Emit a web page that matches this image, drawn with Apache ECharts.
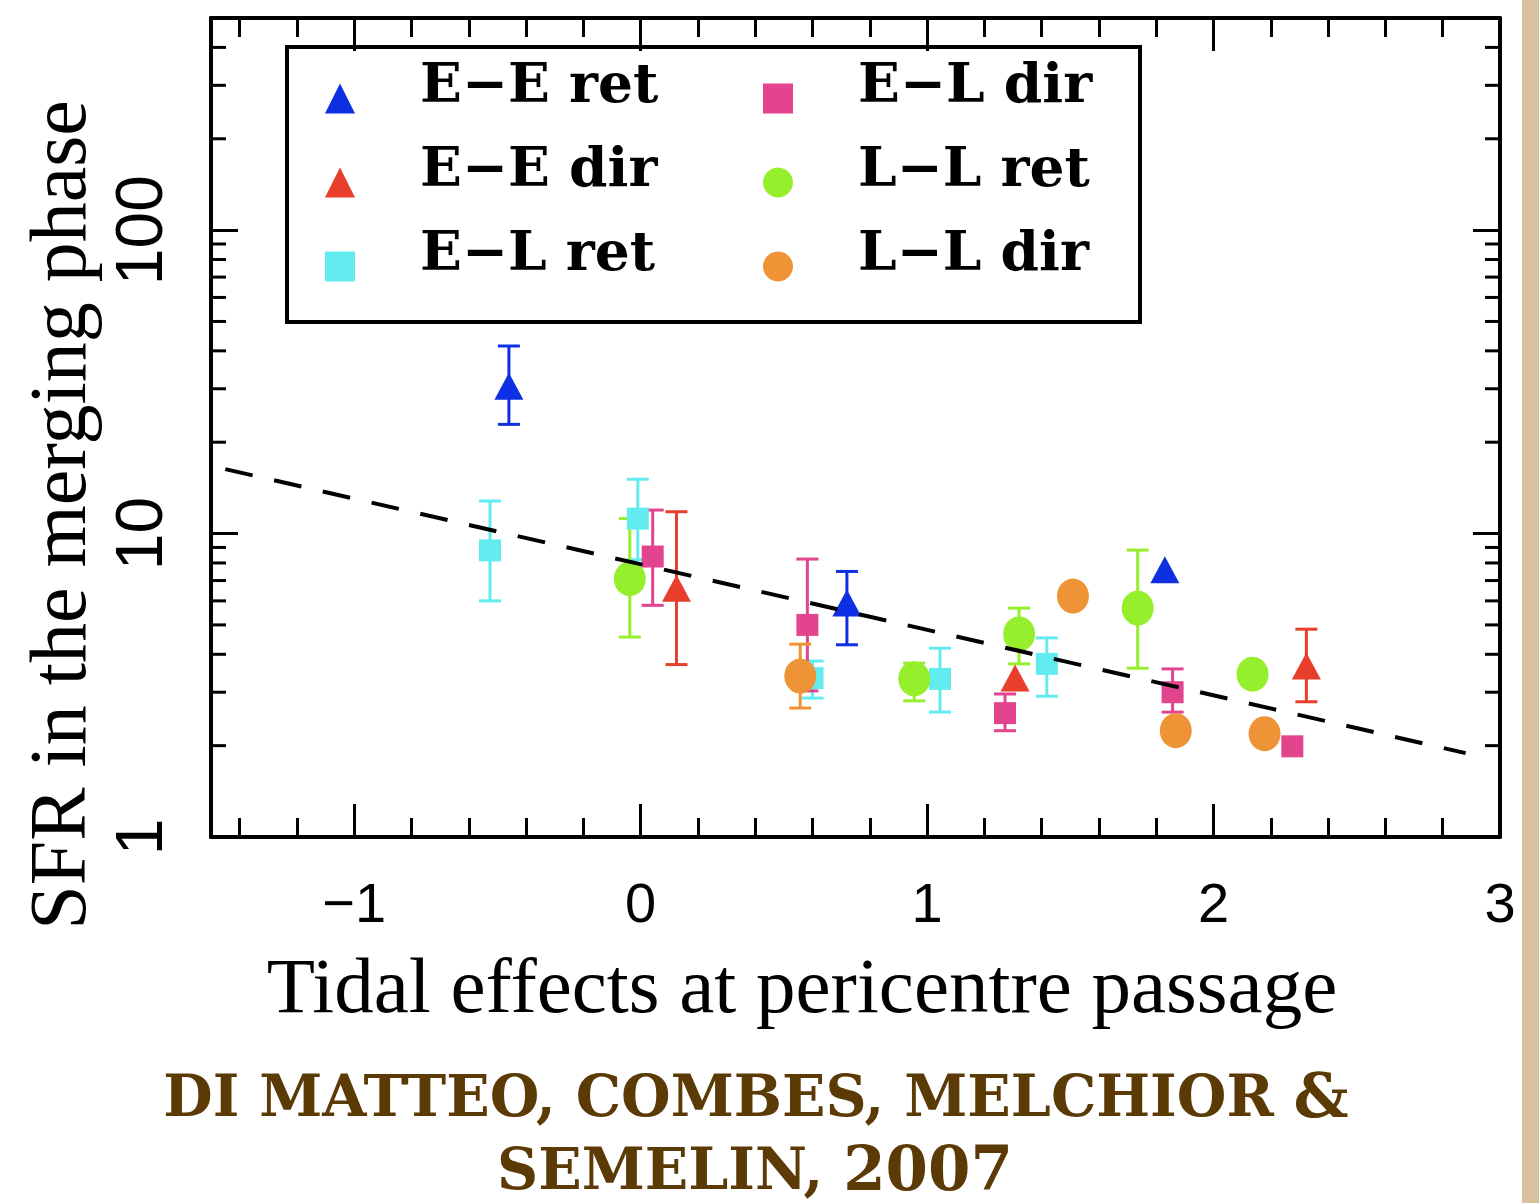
<!DOCTYPE html>
<html><head><meta charset="utf-8">
<script src="https://cdn.jsdelivr.net/npm/echarts@6/dist/echarts.min.js"></script>
<style>html,body{margin:0;padding:0;background:#fff}#c{width:1539px;height:1203px}</style>
</head><body><div id="c"></div>
<script>
// ---------- axis ticks ----------
const xMajorTicks = [-1, 0, 1, 2, 3];
const xMinorTicks = [-1.4, -1.2, -0.8, -0.6, -0.4, -0.2, 0.2, 0.4, 0.6, 0.8, 1.2, 1.4, 1.6, 1.8, 2.2, 2.4, 2.6, 2.8];
const yMinorTicks = [2, 3, 4, 5, 6, 7, 8, 9, 20, 30, 40, 50, 60, 70, 80, 90, 200, 300, 400];

// ---------- data: [tidal effect, SFR, SFR low, SFR high] ----------
const eeRet = [[-0.46, 30.6, 22.9, 41.5], [0.72, 5.9, 4.3, 7.5], [1.83, 7.6, null, null]];
const eeDir = [[0.125, 6.6, 3.7, 11.8], [1.307, 3.34, null, null], [2.324, 3.66, 2.79, 4.84]];
const elRet = [[-0.526, 8.8, 6.0, 12.8], [-0.01, 11.2, 8.2, 15.1], [0.60, 3.34, 2.87, 3.8], [1.045, 3.32, 2.58, 4.19], [1.418, 3.72, 2.91, 4.53]];
const elDir = [[0.042, 8.4, 5.8, 11.95], [0.582, 5.0, 3.03, 8.24], [1.272, 2.56, 2.24, 2.96], [1.857, 3.0, 2.58, 3.58], [2.275, 1.99, null, null]];
const llRet = [[-0.038, 7.1, 4.56, 11.2], [0.955, 3.32, 2.81, 3.74], [1.321, 4.67, 3.72, 5.68], [1.735, 5.68, 3.6, 8.82], [2.136, 3.44, null, null]];
const llDir = [[0.557, 3.39, 2.66, 4.32], [1.509, 6.22, null, null], [1.868, 2.24, null, null], [2.178, 2.19, null, null]];
const fitLine = [[-1.45, 16.3], [2.88, 1.89]];

const legendLeft = ['E−E ret', 'E−E dir', 'E−L ret'];
const legendRight = ['E−L dir', 'L−L ret', 'L−L dir'];

const X_MIN = -1.5, X_MAX = 3, Y_MIN = 1, Y_MAX = 500;

const groups = [
  { name: 'E−E ret', data: eeRet, symbol: 'triangle', size: [29, 27], color: '#0f2fe2' },
  { name: 'E−E dir', data: eeDir, symbol: 'triangle', size: [29, 27], color: '#e83e2c' },
  { name: 'E−L ret', data: elRet, symbol: 'rect', size: [22, 22], color: '#62ecf0' },
  { name: 'E−L dir', data: elDir, symbol: 'rect', size: [22, 22], color: '#e2448e' },
  { name: 'L−L ret', data: llRet, symbol: 'circle', size: [32, 35], color: '#96ef2c' },
  { name: 'L−L dir', data: llDir, symbol: 'circle', size: [32, 35], color: '#ef9436' }
];

const AXIS_LINE = { show: true, onZero: false, lineStyle: { color: '#000', width: 4 } };
function fmtX(v) { return v < 0 ? '−' + Math.abs(v) : String(v); }
function fmtY(v) {
  const l = Math.log10(v);
  return Math.abs(l - Math.round(l)) < 1e-6 ? String(Math.round(v)) : '';
}
function makeX(pos, ticks, len, showLine, showLabel) {
  return {
    type: 'value', position: pos, min: X_MIN, max: X_MAX,
    axisLine: showLine ? AXIS_LINE : { show: false, onZero: false },
    axisTick: { show: true, inside: true, length: len, customValues: ticks, lineStyle: { color: '#000', width: 3 } },
    axisLabel: showLabel ? {
      show: true, customValues: xMajorTicks, formatter: fmtX,
      fontFamily: 'Liberation Sans', fontSize: 56, color: '#000', margin: 37
    } : { show: false },
    splitLine: { show: false }
  };
}
function makeY(pos, showLabel) {
  return {
    type: 'log', logBase: 10, position: pos, min: Y_MIN, max: Y_MAX,
    axisLine: AXIS_LINE,
    axisTick: { show: true, inside: true, length: 27, lineStyle: { color: '#000', width: 3 } },
    axisLabel: showLabel ? {
      show: true, rotate: 90, formatter: fmtY,
      fontFamily: 'Liberation Sans', fontSize: 66, color: '#000', margin: 39
    } : { show: false },
    minorTick: { show: false },
    splitLine: { show: false }
  };
}

const series = [];
groups.forEach(function (g) {
  series.push({
    type: 'custom', name: g.name + ' err', silent: true, clip: false, z: 3,
    data: g.data.filter(d => d[2] != null).map(d => [d[0], d[2], d[3]]),
    renderItem: function (params, api) {
      const x = api.value(0), lo = api.value(1), hi = api.value(2);
      const t = api.coord([x, hi]), b = api.coord([x, lo]);
      const w = 11, st = { stroke: g.color, lineWidth: 3 };
      return { type: 'group', children: [
        { type: 'line', shape: { x1: t[0], y1: t[1], x2: b[0], y2: b[1] }, style: st },
        { type: 'line', shape: { x1: t[0] - w, y1: t[1], x2: t[0] + w, y2: t[1] }, style: st },
        { type: 'line', shape: { x1: b[0] - w, y1: b[1], x2: b[0] + w, y2: b[1] }, style: st }
      ] };
    }
  });
  series.push({
    type: 'scatter', name: g.name, symbol: g.symbol, symbolSize: g.size, z: 4,
    itemStyle: { color: g.color, opacity: 1 },
    data: g.data.map(d => [d[0], d[1]])
  });
});
series.push({
  type: 'line', name: 'fit', data: fitLine, symbol: 'none', z: 6, silent: true,
  lineStyle: { color: '#000', width: 4, type: [28, 22] }
});
series.push({
  type: 'custom', name: 'minor y ticks', silent: true, clip: false, z: 2,
  data: yMinorTicks.map(v => [X_MIN, v]),
  renderItem: function (params, api) {
    const v = api.value(1);
    const l = api.coord([X_MIN, v]), r = api.coord([X_MAX, v]);
    const st = { stroke: '#000', lineWidth: 3 };
    return { type: 'group', children: [
      { type: 'line', shape: { x1: l[0], y1: l[1], x2: l[0] + 15, y2: l[1] }, style: st },
      { type: 'line', shape: { x1: r[0] - 15, y1: r[1], x2: r[0], y2: r[1] }, style: st }
    ] };
  }
});

const legendText = {
  color: '#000',
  rich: {
    s: { width: 60, fontSize: 10, lineHeight: 10 },
    t: { fontFamily: 'DejaVu Serif', fontWeight: 'bold', fontSize: 55, color: '#000', lineHeight: 43 },
    v: { fontSize: 32, lineHeight: 32 }
  }
};
function makeLegend(names, left) {
  return {
    data: names, orient: 'vertical', left: left, top: 55, padding: 0,
    itemWidth: 30, itemHeight: 30, itemGap: 3,
    selectedMode: false, textStyle: legendText,
    formatter: function (name) { return '{s| }{t|' + name + '}\n{v| }'; }
  };
}

const richCredit = {
  a: { fontFamily: 'DejaVu Serif', fontWeight: 'bold', fontSize: 57, fill: '#5b3a06', lineHeight: 50 },
  b: { fontFamily: 'DejaVu Serif', fontWeight: 'bold', fontSize: 61, fill: '#5b3a06', lineHeight: 50 }
};

const chart = echarts.init(document.getElementById('c'), null, { renderer: 'svg' });
chart.setOption({
  animation: false,
  backgroundColor: '#fff',
  grid: { left: 211, right: 39, top: 18, bottom: 366 },
  xAxis: [
    makeX('bottom', xMajorTicks, 33, true, true),
    makeX('bottom', xMinorTicks, 19, false, false),
    makeX('top', xMajorTicks, 33, true, false),
    makeX('top', xMinorTicks, 19, false, false)
  ],
  yAxis: [makeY('left', true), makeY('right', false)],
  legend: [makeLegend(legendLeft, 325), makeLegend(legendRight, 763)],
  series: series,
  graphic: [
    { type: 'rect', z: 100, shape: { x: 287, y: 47, width: 853, height: 275 },
      style: { fill: 'none', stroke: '#000', lineWidth: 4 } },
    { type: 'rect', shape: { x: 1522, y: 0, width: 17, height: 1203 }, style: { fill: '#d7c29d' } },
    { type: 'text', x: 58, y: 515, rotation: Math.PI / 2,
      style: { text: 'SFR in the merging phase', fontFamily: 'Liberation Serif', fontSize: 80,
               fill: '#000', align: 'center', verticalAlign: 'middle' } },
    { type: 'text', x: 802, y: 985,
      style: { text: 'Tidal effects at pericentre passage', fontFamily: 'Liberation Serif', fontSize: 79,
               fill: '#000', align: 'center', verticalAlign: 'middle' } },
    { type: 'text', x: 756, y: 1095,
      style: { text: '{a|DI MATTEO, COMBES, MELCHIOR }{b|&}', align: 'center', verticalAlign: 'middle',
               rich: richCredit } },
    { type: 'text', x: 755, y: 1168,
      style: { text: '{a|SEMELIN, }{b|2007}', align: 'center', verticalAlign: 'middle',
               rich: richCredit } }
  ]
});
</script>
</body></html>
